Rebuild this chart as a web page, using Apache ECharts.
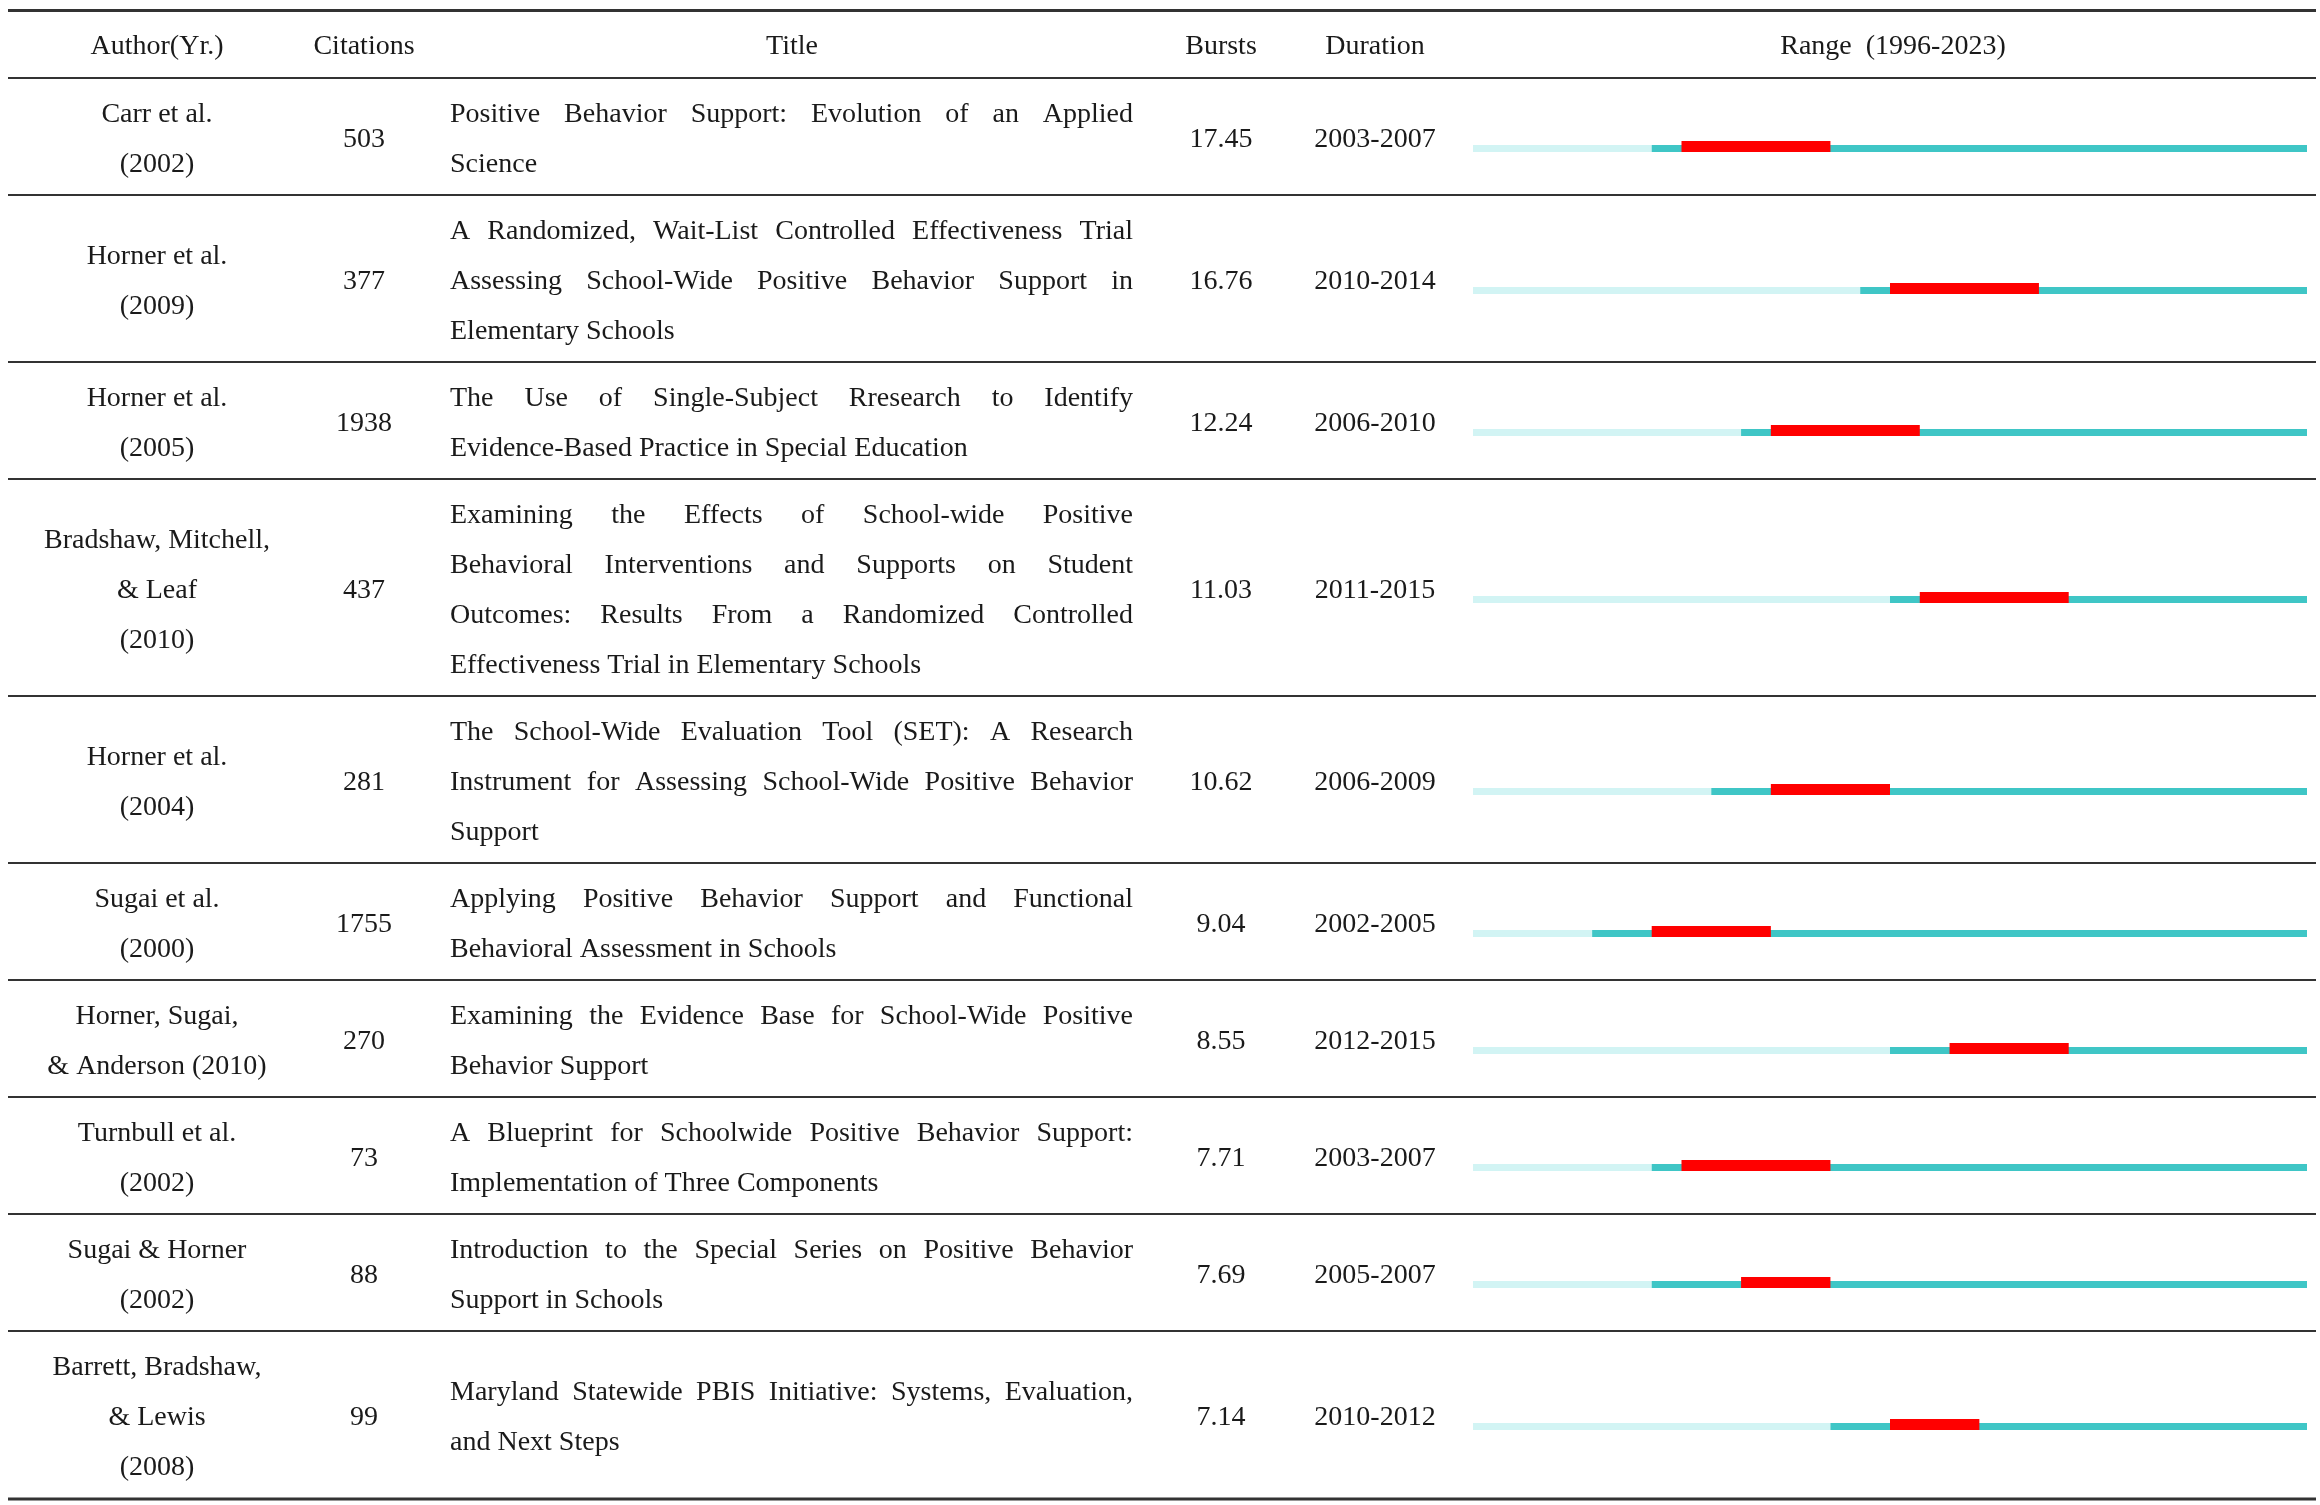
<!DOCTYPE html>
<html><head><meta charset="utf-8">
<script src="https://cdn.jsdelivr.net/npm/echarts@6/dist/echarts.min.js"></script>
<style>html,body{margin:0;padding:0;background:#fff}#main{width:2320px;height:1505px}</style>
</head><body><div id="main"></div>
<script>
// ---------------- data ----------------
const headers = ['Author(Yr.)', 'Citations', 'Title', 'Bursts', 'Duration', 'Range  (1996-2023)'];
const authors = [
  ['Carr et al.', '(2002)'],
  ['Horner et al.', '(2009)'],
  ['Horner et al.', '(2005)'],
  ['Bradshaw, Mitchell,', '& Leaf', '(2010)'],
  ['Horner et al.', '(2004)'],
  ['Sugai et al.', '(2000)'],
  ['Horner, Sugai,', '& Anderson (2010)'],
  ['Turnbull et al.', '(2002)'],
  ['Sugai & Horner', '(2002)'],
  ['Barrett, Bradshaw,', '& Lewis', '(2008)']
];
const citations = [503, 377, 1938, 437, 281, 1755, 270, 73, 88, 99];
const titles = [
  ['Positive Behavior Support: Evolution of an Applied', 'Science'],
  ['A Randomized, Wait-List Controlled Effectiveness Trial', 'Assessing School-Wide Positive Behavior Support in', 'Elementary Schools'],
  ['The Use of Single-Subject Rresearch to Identify', 'Evidence-Based Practice in Special Education'],
  ['Examining the Effects of School-wide Positive', 'Behavioral Interventions and Supports on Student', 'Outcomes: Results From a Randomized Controlled', 'Effectiveness Trial in Elementary Schools'],
  ['The School-Wide Evaluation Tool (SET): A Research', 'Instrument for Assessing School-Wide Positive Behavior', 'Support'],
  ['Applying Positive Behavior Support and Functional', 'Behavioral Assessment in Schools'],
  ['Examining the Evidence Base for School-Wide Positive', 'Behavior Support'],
  ['A Blueprint for Schoolwide Positive Behavior Support:', 'Implementation of Three Components'],
  ['Introduction to the Special Series on Positive Behavior', 'Support in Schools'],
  ['Maryland Statewide PBIS Initiative: Systems, Evaluation,', 'and Next Steps']
];
const bursts = [17.45, 16.76, 12.24, 11.03, 10.62, 9.04, 8.55, 7.71, 7.69, 7.14];
const pubYears = [2002, 2009, 2005, 2010, 2004, 2000, 2010, 2002, 2002, 2008];
const burstStart = [2003, 2010, 2006, 2011, 2006, 2002, 2012, 2003, 2005, 2010];
const burstEnd = [2007, 2014, 2010, 2015, 2009, 2005, 2015, 2007, 2007, 2012];
const rangeStart = 1996;
const rangeEnd = 2023;

// ---------------- layout / style ----------------
const FONT_FAMILY = "'Liberation Serif', 'DejaVu Serif', serif";
const FONT_SIZE = 28;
const TEXT_COLOR = '#1a1a1a';
const RULE_COLOR = '#333333';
const LIGHT = '#d2f4f4';
const TEAL = '#3fc6c6';
const RED = '#ff0000';
const TABLE_L = 8, TABLE_R = 2316;
const HEAD_TOP = 10, HEAD_BOTTOM = 78;
const LINE_H = 50, PAD = 17;
const TEXT_DY = 3;
const COL = { author: 157, cit: 364, titleL: 450, titleR: 1133, titleC: 792, burst: 1221, dur: 1375, range: 1893 };
const BAR_LEFT = 1473, BAR_WIDTH = 834;

const measureCtx = document.createElement('canvas').getContext('2d');
measureCtx.font = FONT_SIZE + 'px ' + FONT_FAMILY;
function tw(s) { return measureCtx.measureText(s).width; }

function txt(s, x, y, align) {
  return {
    type: 'text', silent: true,
    style: {
      text: s, x: x, y: y + TEXT_DY, fill: TEXT_COLOR,
      fontSize: FONT_SIZE, fontFamily: FONT_FAMILY,
      textAlign: align || 'center', textVerticalAlign: 'middle'
    }
  };
}
function rule(y, w) {
  return { type: 'line', silent: true, shape: { x1: TABLE_L, y1: y, x2: TABLE_R, y2: y }, style: { stroke: RULE_COLOR, lineWidth: w } };
}

const graphics = [];
graphics.push(rule(HEAD_TOP + 0.5, 3));
graphics.push(rule(HEAD_BOTTOM, 2));
const headY = (HEAD_TOP + HEAD_BOTTOM) / 2;
const headX = [COL.author, COL.cit, COL.titleC, COL.burst, COL.dur, COL.range];
headers.forEach((h, i) => graphics.push(txt(h, headX[i], headY)));

const rowCenters = [];
let y = HEAD_BOTTOM;
for (let r = 0; r < authors.length; r++) {
  const n = Math.max(authors[r].length, titles[r].length);
  const h = PAD + LINE_H * n;
  const c = y + h / 2;
  rowCenters.push(c);
  authors[r].forEach((s, i) => graphics.push(txt(s, COL.author, c + (i - (authors[r].length - 1) / 2) * LINE_H)));
  graphics.push(txt(String(citations[r]), COL.cit, c));
  graphics.push(txt(bursts[r].toFixed(2), COL.burst, c));
  graphics.push(txt(burstStart[r] + '-' + burstEnd[r], COL.dur, c));
  const tl = titles[r];
  tl.forEach((line, i) => {
    const ly = c + (i - (tl.length - 1) / 2) * LINE_H;
    if (i === tl.length - 1) {
      graphics.push(txt(line, COL.titleL, ly, 'left'));
    } else {
      const words = line.split(' ');
      const total = words.reduce((a, w) => a + tw(w), 0);
      const gap = (COL.titleR - COL.titleL - total) / (words.length - 1);
      let x = COL.titleL;
      words.forEach(w => { graphics.push(txt(w, x, ly, 'left')); x += tw(w) + gap; });
    }
  });
  y += h;
  graphics.push(rule(r === authors.length - 1 ? y + 1 : y, r === authors.length - 1 ? 3 : 2));
}

// ---------------- burst bars ----------------
const grids = [], xAxes = [], yAxes = [], series = [];
rowCenters.forEach((c, i) => {
  grids.push({ left: BAR_LEFT, width: BAR_WIDTH, top: c + 4.5, height: 11 });
  xAxes.push({ type: 'value', gridIndex: i, min: rangeStart, max: rangeEnd + 1, show: false });
  yAxes.push({ type: 'value', gridIndex: i, min: 0, max: 1, show: false });
  series.push({
    type: 'custom', xAxisIndex: i, yAxisIndex: i, silent: true,
    data: [[pubYears[i], burstStart[i], burstEnd[i]]],
    renderItem: function (params, api) {
      const a = api.coord([rangeStart, 0]);
      const p = api.coord([api.value(0), 0]);
      const z = api.coord([rangeEnd + 1, 0]);
      const s = api.coord([api.value(1), 1]);
      const e = api.coord([api.value(2) + 1, 0]);
      const bottom = a[1];
      const tealTop = api.coord([rangeStart, 7 / 11])[1];
      return {
        type: 'group', children: [
          { type: 'rect', shape: { x: a[0], y: tealTop, width: p[0] - a[0], height: bottom - tealTop }, style: { fill: LIGHT } },
          { type: 'rect', shape: { x: p[0], y: tealTop, width: z[0] - p[0], height: bottom - tealTop }, style: { fill: TEAL } },
          { type: 'rect', shape: { x: s[0], y: s[1], width: e[0] - s[0], height: bottom - s[1] }, style: { fill: RED } }
        ]
      };
    }
  });
});

const chart = echarts.init(document.getElementById('main'), null, { renderer: 'canvas' });
chart.setOption({
  animation: false,
  backgroundColor: '#ffffff',
  grid: grids, xAxis: xAxes, yAxis: yAxes, series: series,
  graphic: { elements: graphics }
});
</script>
</body></html>
